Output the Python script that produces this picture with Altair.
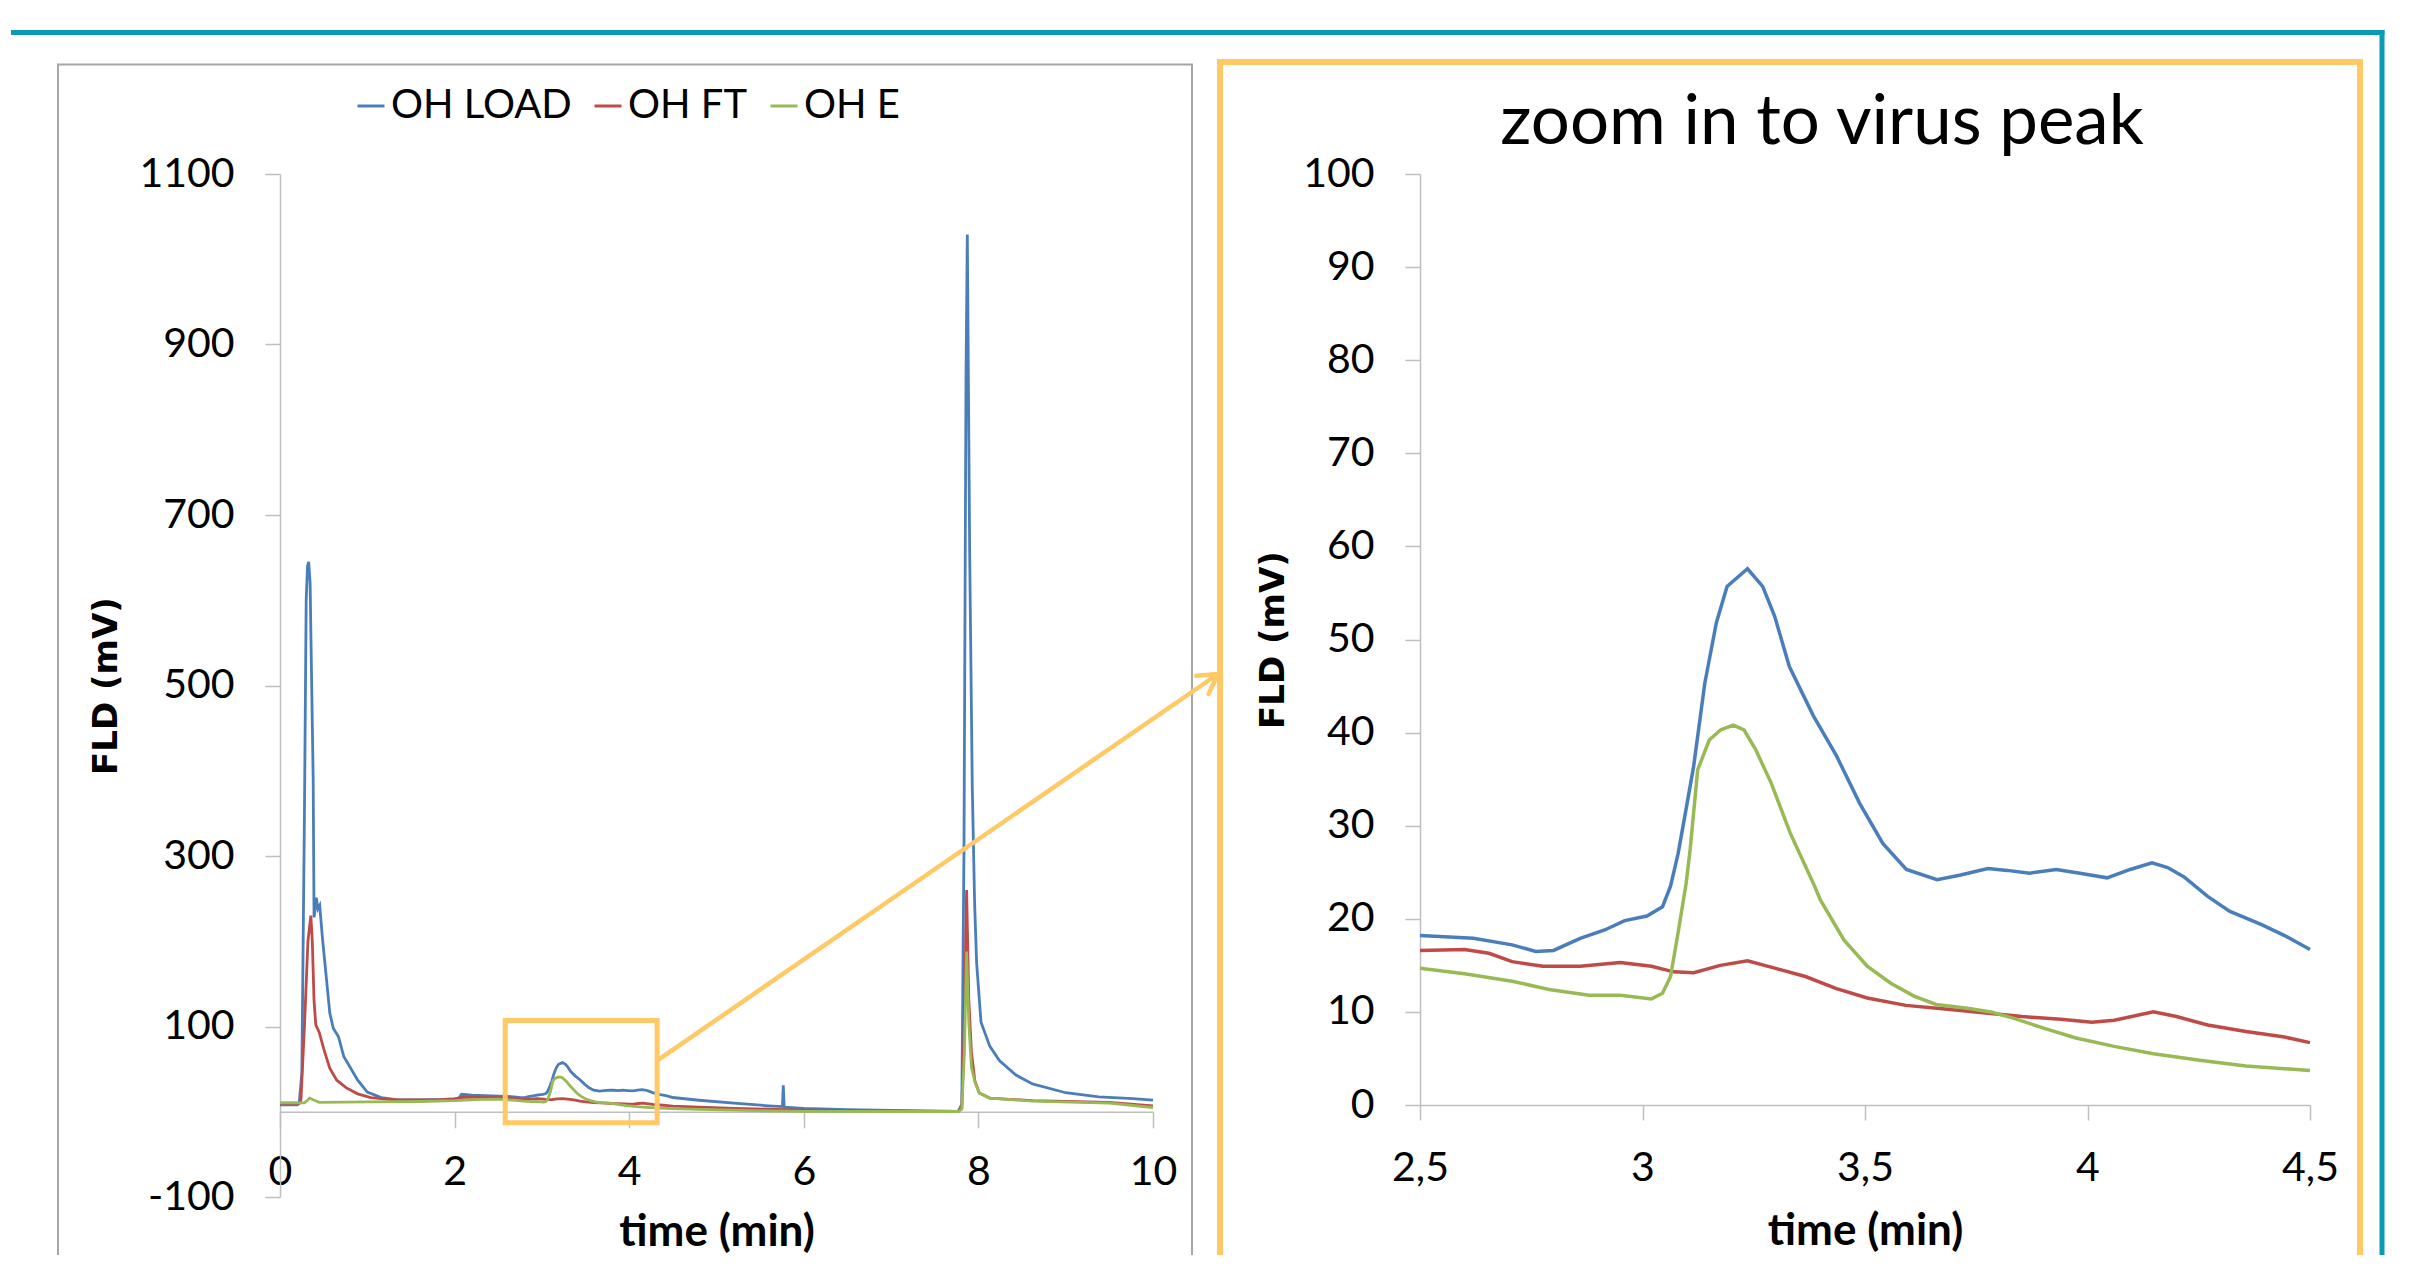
import altair as alt
import pandas as pd

# ---------------- data ----------------
SERIES = ["OH LOAD", "OH FT", "OH E"]
COLORS = ["#4A7EBB", "#BE4B48", "#98B954"]

OH_LOAD = [
    (0, 8), (0.2, 8), (0.22, 10), (0.25, 45), (0.28, 350), (0.30, 600), (0.315, 640), (0.329, 645),
    (0.345, 620), (0.36, 520), (0.38, 391), (0.39, 228), (0.40, 236), (0.416, 251), (0.435, 238),
    (0.455, 242), (0.485, 205), (0.53, 158), (0.57, 116), (0.61, 98), (0.67, 88), (0.73, 65),
    (0.81, 51), (0.89, 37), (1.0, 23), (1.16, 16.6), (1.35, 14), (1.6, 14), (1.88, 14.5), (2.0, 15),
    (2.05, 16), (2.08, 20.5), (2.2, 19.5), (2.35, 18.8),
    (2.5, 18.2), (2.62, 17.9), (2.707, 17.2), (2.76, 16.5), (2.80, 16.6), (2.86, 17.9), (2.915, 18.8),
    (2.96, 19.8), (3.01, 20.3), (3.045, 21.3), (3.063, 23.5), (3.08, 27.0), (3.095, 31.0),
    (3.115, 36.4), (3.14, 45.3), (3.166, 51.8), (3.19, 55.7), (3.236, 57.6), (3.27, 55.7),
    (3.297, 52.5), (3.33, 47.1), (3.384, 41.8), (3.436, 37.5), (3.488, 32.4), (3.54, 28.1),
    (3.593, 25.3), (3.662, 24.2), (3.715, 24.7), (3.776, 25.4), (3.82, 25.2), (3.87, 24.9),
    (3.93, 25.3), (3.983, 24.9), (4.044, 24.4), (4.096, 25.3), (4.145, 26.0), (4.18, 25.5),
    (4.217, 24.5), (4.27, 22.4), (4.32, 20.8), (4.39, 19.4), (4.443, 18.2), (4.5, 16.7),
    (4.8, 13.5), (5.2, 10), (5.6, 7), (5.755, 6), (5.765, 31), (5.775, 5.5), (6.0, 4), (6.5, 2.5),
    (7.0, 1.5), (7.5, 0.8), (7.77, 0.5), (7.81, 9), (7.835, 311), (7.858, 862), (7.873, 1029),
    (7.9, 656), (7.93, 380), (7.957, 243), (7.98, 174), (8.03, 105), (8.13, 77), (8.24, 60),
    (8.43, 43), (8.62, 32.6), (9.0, 22.3), (9.38, 17.5), (9.77, 15.5), (10.0, 13.6),
]

OH_FT = [
    (0, 10), (0.22, 10), (0.24, 14), (0.28, 100), (0.32, 200), (0.353, 230), (0.37, 200), (0.39, 130),
    (0.41, 102), (0.45, 93), (0.5, 74), (0.57, 51), (0.65, 37), (0.76, 28), (0.89, 21), (1.04, 16.6),
    (1.35, 13.8), (1.8, 14), (2.0, 15), (2.1, 17), (2.3, 16.8),
    (2.5, 16.6), (2.6, 16.7), (2.655, 16.3), (2.707, 15.4), (2.776, 14.9), (2.86, 14.9), (2.95, 15.3),
    (3.02, 14.9), (3.07, 14.3), (3.115, 14.2), (3.175, 15.0), (3.236, 15.5), (3.297, 14.7),
    (3.366, 13.8), (3.436, 12.5), (3.505, 11.5), (3.592, 10.7), (3.68, 10.3), (3.766, 9.9),
    (3.853, 9.5), (3.94, 9.2), (4.01, 8.9), (4.06, 9.1), (4.148, 10.0), (4.2, 9.5), (4.27, 8.6),
    (4.356, 7.9), (4.443, 7.3), (4.5, 6.7),
    (4.8, 5.5), (5.2, 4), (5.6, 3), (6.0, 2), (7.0, 1), (7.76, 0.5), (7.81, 4), (7.835, 90),
    (7.865, 260), (7.89, 132), (7.92, 70), (7.96, 36), (8.01, 22), (8.13, 16), (8.62, 13),
    (9.5, 11), (10.0, 7),
]

OH_E = [
    (0, 10.5), (0.28, 10.5), (0.31, 13), (0.34, 16), (0.38, 14), (0.45, 11), (1.0, 11.5), (1.6, 12),
    (2.0, 13), (2.3, 14.5),
    (2.5, 14.7), (2.6, 14.1), (2.707, 13.3), (2.79, 12.4), (2.88, 11.8), (2.95, 11.8), (3.02, 11.4),
    (3.045, 12.0), (3.063, 13.8), (3.08, 18.5), (3.098, 23.8), (3.107, 27.4), (3.124, 36.0),
    (3.15, 39.2), (3.176, 40.3), (3.204, 40.8), (3.228, 40.3), (3.254, 38.2), (3.289, 34.6),
    (3.332, 29.2), (3.384, 23.8), (3.40, 22.0), (3.453, 17.7), (3.505, 14.9), (3.557, 13.1),
    (3.61, 11.7), (3.66, 10.8), (3.73, 10.4), (3.783, 10.0), (3.835, 9.3), (3.905, 8.2),
    (3.974, 7.2), (4.06, 6.3), (4.148, 5.5), (4.252, 4.8), (4.356, 4.2), (4.5, 3.7),
    (4.8, 2.8), (5.2, 1.8), (5.6, 1), (6.0, 0.5), (7.0, 0.3), (7.77, 0.3), (7.81, 3), (7.84, 70),
    (7.865, 188), (7.89, 105), (7.92, 52), (7.96, 35), (8.01, 22), (8.13, 16), (8.62, 12.5),
    (9.5, 10), (10.0, 5),
]

LEFT_X_TICKS = [0, 2, 4, 6, 8, 10]
LEFT_Y_TICKS = [-100, 100, 300, 500, 700, 900, 1100]
RIGHT_X_TICKS = [2.5, 3, 3.5, 4, 4.5]
RIGHT_Y_TICKS = [0, 10, 20, 30, 40, 50, 60, 70, 80, 90, 100]

ZOOM_T = [2.58, 4.32]
ZOOM_V = [-13, 107]
ARROW_FROM = (4.32, 60)
RIGHT_TITLE = "zoom in to virus peak"

rows = []
for name, pts in zip(SERIES, [OH_LOAD, OH_FT, OH_E]):
    for t, v in pts:
        rows.append({"series": name, "t": t, "v": v})
df = pd.DataFrame(rows)

# ---------------- layout (page pixels) ----------------
LW, LH = 873, 1023
RW, RH = 890, 931
LX0, TOP = 277, 174
RX0 = 1417
SPACING = RX0 - (LX0 + LW)
BOTTOM = 1255

AXIS_GRAY = "#BFBFBF"
TEAL = "#0B9AB5"
GOLD = "#FFC966"
FRAME_GRAY = "#A6A6A6"


def L(px):
    return px - LX0


def R(px):
    return px - RX0


def T(py):
    return py - TOP


one = alt.Data(values=[{}])

color_scale = alt.Scale(domain=SERIES, range=COLORS)
PLAIN = "toString(datum.value)"
COMMA = "replace(toString(datum.value), '.', ',')"

# ---------------- left chart ----------------
anchor = alt.Chart(one).mark_rect(fill="white", strokeWidth=0).encode(
    x=alt.value(L(8)), x2=alt.value(L(9)), y=alt.value(T(8)), y2=alt.value(T(9))
)
teal_h = alt.Chart(one).mark_rule(color=TEAL, strokeWidth=5).encode(
    x=alt.value(L(8)), x2=alt.value(L(2381.5)), y=alt.value(T(32.5))
)
teal_v = alt.Chart(one).mark_rule(color=TEAL, strokeWidth=5).encode(
    x=alt.value(L(2379)), y=alt.value(T(30)), y2=alt.value(T(BOTTOM))
)
gray_top = alt.Chart(one).mark_rule(color=FRAME_GRAY, strokeWidth=2).encode(
    x=alt.value(L(54)), x2=alt.value(L(1190)), y=alt.value(T(64.5))
)
gray_left = alt.Chart(one).mark_rule(color=FRAME_GRAY, strokeWidth=2).encode(
    x=alt.value(L(55)), y=alt.value(T(64.5)), y2=alt.value(T(BOTTOM))
)
gray_right = alt.Chart(one).mark_rule(color=FRAME_GRAY, strokeWidth=2).encode(
    x=alt.value(L(1189)), y=alt.value(T(64.5)), y2=alt.value(T(BOTTOM))
)

left_lines = alt.Chart(df).mark_line(strokeWidth=2.8).encode(
    x=alt.X(
        "t:Q",
        scale=alt.Scale(domain=[0, 10], nice=False, zero=False),
        axis=alt.Axis(
            values=LEFT_X_TICKS, offset=-(LH * 100 / 1200), tickSize=16, labelPadding=45,
            labelBaseline="middle", labelFontSize=41, labelFlush=False, labelOverlap=False,
            labelExpr=PLAIN,
            grid=False, title="time (min)", titleFontSize=44, titleFontWeight="bold",
            titleY=121, titleBaseline="middle",
        ),
    ),
    y=alt.Y(
        "v:Q",
        scale=alt.Scale(domain=[-100, 1100], nice=False, zero=False),
        axis=alt.Axis(
            values=LEFT_Y_TICKS, tickSize=15, labelPadding=31, labelFontSize=41, labelFlush=False,
            labelOverlap=False, labelExpr=PLAIN, grid=False, title="FLD (mV)",
            titleFont="DejaVu Sans", titleFontSize=34, titleFontWeight="bold", titleX=-174,
            titleY=LH / 2, titleAngle=270, titleBaseline="middle", titleAlign="center",
        ),
    ),
    color=alt.Color(
        "series:N", scale=color_scale, sort=SERIES, title=None,
        legend=alt.Legend(
            orient="none", legendX=L(348), legendY=T(107) - 21, direction="horizontal",
            symbolType="stroke", symbolSize=729, symbolStrokeWidth=3, labelFont="Lato",
            labelFontSize=40, labelColor="black", labelOffset=0, labelLimit=500,
            columnPadding=16, padding=0,
        ),
    ),
)

zoom_box = alt.Chart(one).mark_rect(fillOpacity=0, stroke=GOLD, strokeWidth=5).encode(
    x=alt.datum(ZOOM_T[0]), x2=alt.datum(ZOOM_T[1]), y=alt.datum(ZOOM_V[1]), y2=alt.datum(ZOOM_V[0])
)
arrow_line = alt.Chart(one).mark_rule(color=GOLD, strokeWidth=4.5, strokeCap="round").encode(
    x=alt.datum(ARROW_FROM[0]), y=alt.datum(ARROW_FROM[1]),
    x2=alt.value(L(1215)), y2=alt.value(T(674)),
)
arrow_head = alt.Chart(one).mark_point(
    shape="M -1 -0.58 L 0 0 L -1 0.58", filled=False, stroke=GOLD, strokeWidth=4.5,
    size=1444, angle=325.4, opacity=1, strokeCap="round", strokeJoin="round",
).encode(x=alt.value(L(1215)), y=alt.value(T(674)))

left = alt.layer(
    anchor, teal_h, teal_v, gray_top, gray_left, gray_right,
    left_lines, zoom_box, arrow_line, arrow_head,
).properties(width=LW, height=LH)

# ---------------- right chart ----------------
gold_top = alt.Chart(one).mark_rule(color=GOLD, strokeWidth=6).encode(
    x=alt.value(R(1214)), x2=alt.value(R(2360)), y=alt.value(T(62))
)
gold_left = alt.Chart(one).mark_rule(color=GOLD, strokeWidth=6).encode(
    x=alt.value(R(1217)), y=alt.value(T(62)), y2=alt.value(T(BOTTOM))
)
gold_right = alt.Chart(one).mark_rule(color=GOLD, strokeWidth=6).encode(
    x=alt.value(R(2357)), y=alt.value(T(62)), y2=alt.value(T(BOTTOM))
)
title_text = alt.Chart(alt.Data(values=[{"s": RIGHT_TITLE}])).mark_text(
    font="Lato", fontSize=69, align="center", baseline="alphabetic", color="black"
).encode(text="s:N", x=alt.value(R(1819)), y=alt.value(T(144)))

right_lines = alt.Chart(df).transform_filter(
    "datum.t >= 2.5 && datum.t <= 4.5"
).mark_line(strokeWidth=3.5).encode(
    x=alt.X(
        "t:Q",
        scale=alt.Scale(domain=[2.5, 4.5], nice=False, zero=False),
        axis=alt.Axis(
            values=RIGHT_X_TICKS, tickSize=15, labelPadding=48, labelBaseline="middle",
            labelFontSize=41, labelFlush=False, labelOverlap=False, labelExpr=COMMA,
            grid=False, title="time (min)", titleFontSize=44, titleFontWeight="bold",
            titleY=126, titleBaseline="middle",
        ),
    ),
    y=alt.Y(
        "v:Q",
        scale=alt.Scale(domain=[0, 100], nice=False, zero=False),
        axis=alt.Axis(
            values=RIGHT_Y_TICKS, tickSize=15, labelPadding=31, labelFontSize=41, labelFlush=False,
            labelOverlap=False, labelExpr=PLAIN, grid=False, title="FLD (mV)",
            titleFont="DejaVu Sans", titleFontSize=34, titleFontWeight="bold", titleX=-147,
            titleY=RH / 2, titleAngle=270, titleBaseline="middle", titleAlign="center",
        ),
    ),
    color=alt.Color("series:N", scale=color_scale, sort=SERIES, legend=None),
)

right = alt.layer(gold_top, gold_left, gold_right, title_text, right_lines).properties(
    width=RW, height=RH
)

chart = (
    alt.hconcat(left, right, spacing=SPACING, bounds="flush")
    .resolve_scale(color="independent")
    .properties(padding=0)
    .configure_view(strokeWidth=0)
    .configure_axis(
        labelFont="Lato", titleFont="Lato", labelColor="black", titleColor="black",
        domainColor=AXIS_GRAY, tickColor=AXIS_GRAY, domainWidth=1.5, tickWidth=1.5,
    )
)

chart.save("out.html", embed_options={"renderer": "svg", "actions": False})
